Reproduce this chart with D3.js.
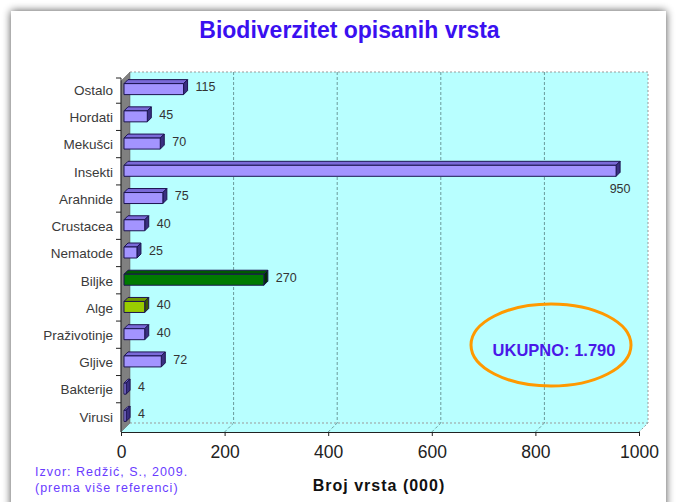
<!DOCTYPE html>
<html><head><meta charset="utf-8">
<script src="https://cdn.jsdelivr.net/npm/d3@7"></script>
<style>html,body{margin:0;padding:0;background:#fff;}svg{display:block;font-family:"Liberation Sans",Arial,sans-serif;}</style>
</head><body>
<svg id="c" width="676" height="502"></svg>
<script>
const categories = ["Ostalo","Hordati","Mekušci","Insekti","Arahnide","Crustacea","Nematode","Biljke","Alge","Praživotinje","Gljive","Bakterije","Virusi"];
const values = [115,45,70,950,75,40,25,270,40,40,72,4,4];
const barKinds = ["p","p","p","p","p","p","p","g","y","p","p","p","p"];
const xTicks = [0,200,400,600,800,1000];
const title = "Biodiverzitet opisanih vrsta";
const xTitle = "Broj vrsta (000)";
const sourceLines = ["Izvor: Redžić, S., 2009.","(prema više referenci)"];
const totalLabel = "UKUPNO: 1.790";

(function(){
const svg = d3.select("#c");
const defs = svg.append("defs");
const f = defs.append("filter").attr("id","sh").attr("x","-10%").attr("y","-10%").attr("width","120%").attr("height","120%");
f.append("feGaussianBlur").attr("in","SourceAlpha").attr("stdDeviation",4).attr("result","b");
f.append("feComponentTransfer").attr("in","b").attr("result","o2").append("feFuncA").attr("type","linear").attr("slope",0.7);
const m = f.append("feMerge"); m.append("feMergeNode").attr("in","o2"); m.append("feMergeNode").attr("in","SourceGraphic");

svg.append("rect").attr("x",11).attr("y",11).attr("width",655).attr("height",520).attr("fill","#fff").attr("filter","url(#sh)");

svg.append("text").attr("x",349.5).attr("y",38).attr("text-anchor","middle").attr("font-size",23).attr("font-weight","bold").attr("fill","#3a10f0").text(title);

const D = 9; // depth offset
const x = d3.scaleLinear().domain([0,1000]).range([121,639]);
const y = d3.scaleBand().domain(categories).range([77,431]).paddingInner(0).paddingOuter(0);
const pTop = 72, pBot = 432;

svg.append("path").attr("fill","#b8ffff")
  .attr("d",`M${x(0)+D},${pTop}H${x(1000)+D}V${pBot-D}L${x(1000)},${pBot}H${x(0)}Z`);
xTicks.slice(1,-1).forEach(t=>{
  svg.append("line").attr("x1",x(t)+D).attr("x2",x(t)+D).attr("y1",pTop).attr("y2",pBot-D)
    .attr("stroke","#6a9a9a").attr("stroke-width",1).attr("stroke-dasharray","3,2");
  svg.append("line").attr("x1",x(t)).attr("x2",x(t)+D).attr("y1",pBot).attr("y2",pBot-D)
    .attr("stroke","#6a9a9a").attr("stroke-width",1).attr("stroke-dasharray","3,2");
});
svg.append("path").attr("fill","none").attr("stroke","#999").attr("stroke-dasharray","2,2")
  .attr("d",`M${x(0)+D},${pTop}H${x(1000)+D}V${pBot-D}L${x(1000)},${pBot}`);
svg.append("path").attr("fill","none").attr("stroke","#999").attr("stroke-dasharray","2,2")
  .attr("d",`M${x(0)+D},${pBot-D}H${x(1000)+D}`);
svg.append("path").attr("fill","#808080").attr("stroke","#555").attr("stroke-width",0.5)
  .attr("d",`M${x(0)},${pBot}V${pTop+D}L${x(0)+D},${pTop}V${pBot-D}Z`);

const xa = svg.append("g").attr("transform",`translate(0,${pBot})`)
  .call(d3.axisBottom(x).tickValues(xTicks).tickSize(4).tickSizeOuter(0).tickFormat(d3.format("d")));
xa.select(".domain").attr("stroke","#222");
xa.selectAll(".tick line").attr("stroke","#222");
xa.selectAll("text").attr("font-size",17.5).attr("fill","#222").attr("y",26).attr("dy",0).attr("font-family","Liberation Sans, Arial, sans-serif");

const ya = svg.append("g").attr("transform",`translate(${x(0)},0)`)
  .call(d3.axisLeft(y).tickSize(0).tickPadding(8));
ya.select(".domain").attr("stroke","#222").attr("d",`M0,${pBot}V${pTop+D-3}`);
ya.selectAll("text").attr("font-size",13.5).attr("fill","#3a3a3a").attr("font-family","Liberation Sans, Arial, sans-serif");
categories.forEach((c,i)=>{
  if (i===0) return;
  const yy = y(c) - 1;
  svg.append("line").attr("x1",x(0)-5).attr("x2",x(0)).attr("y1",yy).attr("y2",yy).attr("stroke","#222");
});
svg.append("line").attr("x1",x(0)-5).attr("x2",x(0)).attr("y1",pTop+D-3).attr("y2",pTop+D-3).attr("stroke","#222");

const col = {p:{front:"#a394ff",top:"#7a6ad8",side:"#3a2f80"},g:{front:"#007a00",top:"#005a00",side:"#003000"},y:{front:"#99cc00",top:"#6f9a00",side:"#3c5a00"}};
const bh = 11, bd = 4, sh = 3;
categories.forEach((c,i)=>{
  const v = values[i], k = col[barKinds[i]];
  const x0 = x(0)+sh, x1 = x(v)+sh;
  const yc = y(c)+y.bandwidth()/2 - 1.5;
  const y0 = yc - bh/2, y1 = yc + bh/2;
  const g = svg.append("g").attr("stroke","#1c1450").attr("stroke-width",1).attr("stroke-linejoin","round");
  g.append("path").attr("fill",k.top).attr("d",`M${x0},${y0}L${x0+bd},${y0-bd}H${x1+bd}L${x1},${y0}Z`);
  g.append("path").attr("fill",k.side).attr("d",`M${x1},${y0}L${x1+bd},${y0-bd}V${y1-bd}L${x1},${y1}Z`);
  g.append("rect").attr("fill",k.front).attr("x",x0).attr("y",y0).attr("width",Math.max(0,x1-x0)).attr("height",bh);
  const lbl = svg.append("text").attr("font-size",12.5).attr("fill","#333").attr("dy","0.35em").text(v);
  if (v > 900) lbl.attr("x",x1+4).attr("y",yc+17.5).attr("text-anchor","middle");
  else lbl.attr("x",x1+bd+8).attr("y",yc-2);
});

svg.append("text").attr("x",379).attr("y",491).attr("text-anchor","middle").attr("font-size",16).attr("letter-spacing",1).attr("font-weight","bold").attr("fill","#111").text(xTitle);
sourceLines.forEach((s,i)=>svg.append("text").attr("x",35).attr("y",476+i*15.5).attr("font-size",12.5).attr("letter-spacing",1).attr("fill","#6a3cff").text(s));

svg.append("ellipse").attr("cx",551).attr("cy",345).attr("rx",80).attr("ry",41).attr("fill","none").attr("stroke","#ff9900").attr("stroke-width",3);
svg.append("text").attr("x",554).attr("y",356).attr("text-anchor","middle").attr("font-size",16.5).attr("font-weight","bold").attr("fill","#4a18e8").text(totalLabel);
})();
</script>
</body></html>
